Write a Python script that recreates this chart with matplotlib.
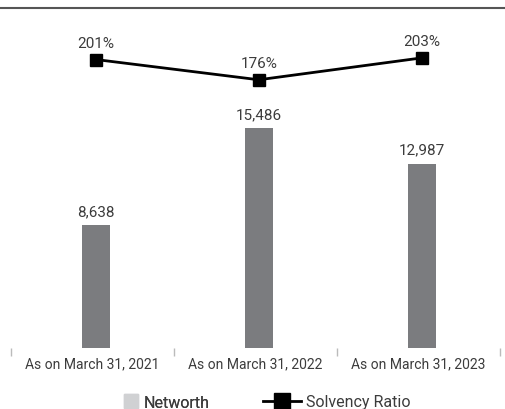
import matplotlib
matplotlib.use("Agg")
import matplotlib.pyplot as plt
from matplotlib.patches import Patch
from matplotlib.lines import Line2D
import numpy as np

categories = ["As on March 31, 2021", "As on March 31, 2022", "As on March 31, 2023"]
networth = [8638, 15486, 12987]
solvency = [201, 176, 203]

plt.rcParams['font.family'] = ['Roboto', 'DejaVu Sans']
text_col = '#3c3c3c'

fig = plt.figure(figsize=(5.05, 4.10), dpi=100)
ax = fig.add_axes([11 / 505, 1 - 349 / 410, 489 / 505, 329 / 410])
x = np.arange(len(categories))

ax.bar(x + 0.02, networth, width=0.172, color='#7b7c7f', zorder=2)
for xi, v in zip(x, networth):
    ax.text(xi + 0.02, v + 500, f"{v:,}", ha='center', va='bottom', fontsize=11, color=text_col)
ax.set_ylim(0, 23169)
ax.set_xlim(-0.5, 2.5)

ax.set_xticks(x)
ax.set_xticklabels(categories, fontsize=10, color=text_col)
ax.set_xticks([-0.5, 0.5, 1.5, 2.5], minor=True)
ax.tick_params(axis='x', which='major', length=0, pad=6)
ax.tick_params(axis='x', which='minor', length=6, color='#bbbbbb', width=1)
ax.set_yticks([])
for s in ax.spines.values():
    s.set_visible(False)

ax2 = ax.twinx()
ax2.plot(x + 0.02, solvency, color='black', lw=2, marker='s', markersize=9, zorder=3)
for xi, v in zip(x, solvency):
    ax2.text(xi + 0.02, v + 12, f"{v}%", ha='center', va='bottom', fontsize=11, color=text_col)
ax2.set_ylim(-155, 251)
ax2.set_yticks([])
for s in ax2.spines.values():
    s.set_visible(False)

# top rule
fig.add_artist(Line2D([0, 1], [1 - 9 / 410, 1 - 9 / 410], color='#555555', lw=1.5))

leg_y = 1 - 403 / 410
leg1 = fig.legend(handles=[Patch(color='#d0d1d3', label='Networth')],
                  loc='center left', bbox_to_anchor=(124 / 505, leg_y), frameon=False,
                  fontsize=11.5, handlelength=0.85, handleheight=1.0, handletextpad=0.4,
                  borderpad=0, borderaxespad=0, labelcolor=text_col)
leg2 = fig.legend(handles=[Line2D([0], [0], color='black', lw=2, marker='s', markersize=11,
                                  label='Solvency Ratio')],
                  loc='center left', bbox_to_anchor=(263 / 505, leg_y), frameon=False,
                  fontsize=11.5, handlelength=2.4, handletextpad=0.3,
                  borderpad=0, borderaxespad=0, labelcolor=text_col)
fig.add_artist(leg1)

fig.savefig("out.png", dpi=100)
